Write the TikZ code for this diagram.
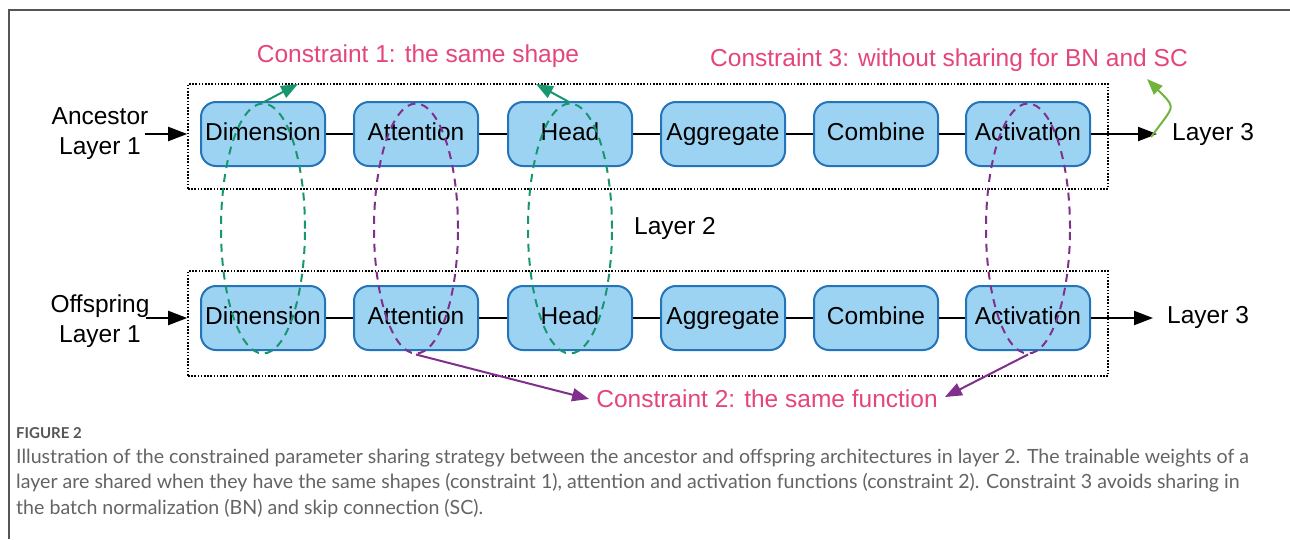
\documentclass[tikz,border=0pt]{standalone}
\usepackage{fontspec}
\setmainfont{Liberation Sans}
\newfontfamily\capfont{Lato}
\usetikzlibrary{arrows.meta,shapes.geometric}

\definecolor{boxfill}{RGB}{157,211,242}
\definecolor{boxline}{RGB}{36,116,186}
\definecolor{noteink}{RGB}{228,69,122}
\definecolor{tealink}{RGB}{24,150,112}
\definecolor{plumink}{RGB}{128,48,140}
\definecolor{leafink}{RGB}{112,180,62}
\definecolor{frameink}{RGB}{85,85,85}
\definecolor{capink}{RGB}{100,100,100}

\tikzset{
  blk/.style={draw=boxline, fill=boxfill, line width=2pt, rounded corners=15pt,
    minimum width=124pt, minimum height=64pt, inner sep=0pt,
    text height=17.5pt, text depth=4.5pt, font=\fontsize{24.5}{29}\selectfont},
  lbl/.style={inner sep=0pt, font=\fontsize{24.5}{30}\selectfont, align=center},
  note/.style={inner sep=0pt, text=noteink, font=\fontsize{24.5}{29}\selectfont},
  link/.style={line width=2pt, black},
  tip/.style={-{Triangle[length=19pt,width=14pt]}},
  flow/.style={line width=2pt, black, tip},
  dotbox/.style={draw, dash pattern=on 1.6pt off 1.6pt, line width=1.6pt,
    minimum width=920pt, minimum height=105pt, inner sep=0pt},
  ring/.style={ellipse, draw, line width=2pt, dash pattern=on 8pt off 6pt,
    minimum width=84pt, minimum height=250pt, inner sep=0pt},
  tealring/.style={ring, draw=tealink},
  plumring/.style={ring, draw=plumink},
  tealarrow/.style={line width=2pt, tealink, -{Triangle[length=17pt,width=13pt]}},
  plumarrow/.style={line width=2pt, plumink, -{Triangle[length=17pt,width=13pt]}},
  leafarrow/.style={line width=2pt, leafink, -{Triangle[length=16pt,width=12pt]}},
  captext/.style={anchor=base west, inner sep=0pt, text=capink,
    font=\capfont\fontsize{19.6}{23}\selectfont},
}

\begin{document}
\begin{tikzpicture}[x=1pt,y=-1pt]
\useasboundingbox[fill=white] (0,0) rectangle (1290,539);

% outer frame
\draw[frameink, line width=2pt] (9,539) -- (9,10) -- (1290,10);

% layer-2 groups
\node[dotbox] (R1) at (648,136.5) {};
\node[dotbox] (R2) at (648,323.5) {};

% ancestor row
\node[blk] (tDim) at (263,134) {Dimension};
\node[blk] (tAtt) at (416,134) {Attention};
\node[blk] (tHead) at (570,134) {Head};
\node[blk] (tAgg) at (723,134) {Aggregate};
\node[blk] (tCom) at (876,134) {Combine};
\node[blk] (tAct) at (1028,134) {Activation};

% offspring row
\node[blk] (bDim) at (263,318) {Dimension};
\node[blk] (bAtt) at (416,318) {Attention};
\node[blk] (bHead) at (570,318) {Head};
\node[blk] (bAgg) at (723,318) {Aggregate};
\node[blk] (bCom) at (876,318) {Combine};
\node[blk] (bAct) at (1028,318) {Activation};

\foreach \r in {t,b}{
  \draw[link] (\r Dim) -- (\r Att);
  \draw[link] (\r Att) -- (\r Head);
  \draw[link] (\r Head) -- (\r Agg);
  \draw[link] (\r Agg) -- (\r Com);
  \draw[link] (\r Com) -- (\r Act);
}

% inputs and outputs
\node[lbl] (anc) at (100,134) {Ancestor\\Layer 1};
\node[lbl] (off) at (100,321) {Offspring\\Layer 1};
\draw[flow] ([xshift=-4pt]anc.east) -- (R1.west |- anc.east);
\draw[flow] ([xshift=-4pt]off.east |- bDim) -- (R2.west |- bDim);

\node[lbl, anchor=west] (L3t) at (1172,134) {Layer 3};
\node[lbl, anchor=west] (L3b) at (1167,317) {Layer 3};
\draw[flow, shorten >=15pt] (tAct.east) -- (L3t.west);
\draw[flow, shorten >=14pt] (bAct.east) -- (L3b.west |- bAct.east);

\node[lbl] (L2) at (675,228) {Layer 2};

% sharing rings
\node[tealring] (e1) at (263,228.5) {};
\node[plumring] (e2) at (416,228.5) {};
\node[tealring] (e3) at (570,228.5) {};
\node[plumring] (e4) at (1028,228.5) {};

% constraint notes
\node[note] (c1) at (418,56) {Constraint 1: the same shape};
\node[note] (c3) at (949,60) {Constraint 3: without sharing for BN and SC};
\node[note] (c2) at (767,399) {Constraint 2: the same function};

\coordinate (k1) at (298,84);
\coordinate (k3) at (536,84);
\draw[tealarrow] (e1.north) -- (k1);
\draw[tealarrow] (e3.north) -- (k3);

\draw[plumarrow] (e2.south) -- ([xshift=-7pt]c2.west);
\draw[plumarrow] (e4.south) -- ([xshift=7pt,yshift=2pt]c2.east);

\coordinate (g0) at (1151,137);
\coordinate (g1) at (1147,79);
\draw[leafarrow] (g0) -- (1163,121) .. controls (1174,106) .. (g1);

% caption
\node[anchor=base west, inner sep=0pt, text=frameink,
      font=\capfont\bfseries\fontsize{15}{17}\selectfont] (fig) at (16,438) {FIGURE 2};
\node[captext] (cap1) at (16,463)
  {Illustration of the constrained parameter sharing strategy between the ancestor and offspring architectures in layer 2. The trainable weights of a};
\node[captext] (cap2) at (16,488.5)
  {layer are shared when they have the same shapes (constraint 1), attention and activation functions (constraint 2). Constraint 3 avoids sharing in};
\node[captext] (cap3) at (16,514)
  {the batch normalization (BN) and skip connection (SC).};
\end{tikzpicture}
\end{document}
